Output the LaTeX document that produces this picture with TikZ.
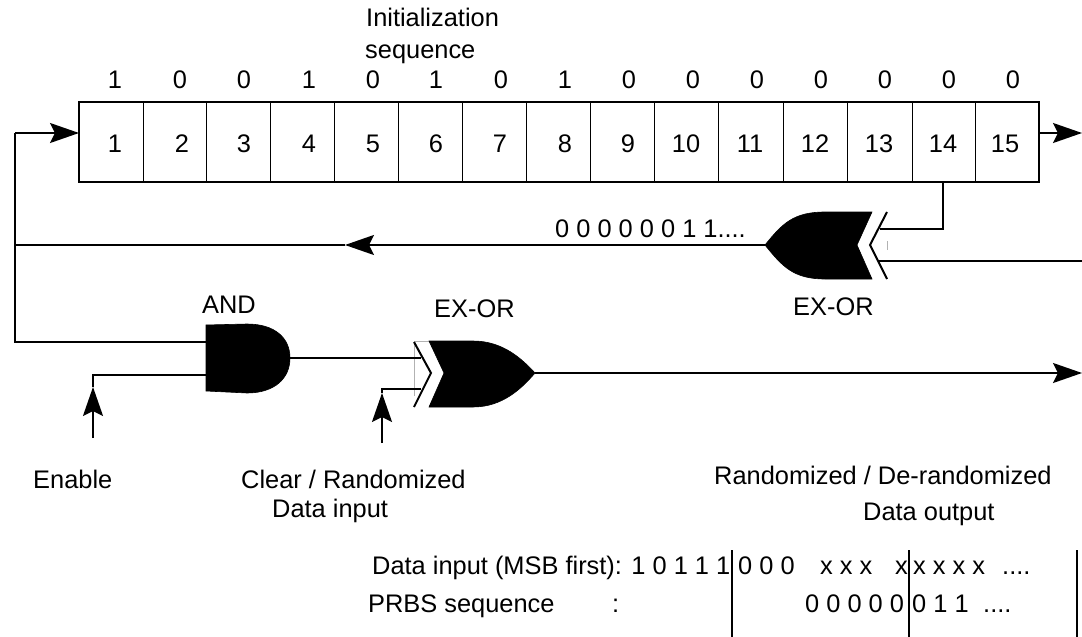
\documentclass[tikz,border=0pt]{standalone}
\usepackage{fontspec}
\setmainfont{Liberation Sans}
\usetikzlibrary{arrows.meta}
\tikzset{
  lbl/.style={inner sep=0pt,anchor=base west,font=\fontsize{25.4}{28}\selectfont},
  num/.style={inner sep=0pt,anchor=base,font=\fontsize{25.4}{28}\selectfont},
  wire/.style={line width=2pt,line join=miter},
  thin wire/.style={line width=1pt},
  table rule/.style={line width=1.5pt},
  head/.style={-{Stealth[length=29pt,width=20pt,inset=5pt]}},
  gate/.style={fill=black,draw=black,line width=.6pt},
  ghost/.style={line width=.6pt,draw=black!30},
}
\begin{document}
\begin{tikzpicture}[x=1pt,y=-1pt]
\useasboundingbox (0,0) rectangle (1082,637);
% Register
\node[lbl] (init1) at (366,27) {Initialization};
\node[lbl] (init2) at (365,58) {sequence};
\coordinate (regTL) at (79,102);
\coordinate (regBR) at (1039,182);
\draw[wire] (regTL) rectangle (regBR);
\foreach \x in {143,206.5,270.5,334.5,398,462,526,590,654,718,783,847,912,975}
  \draw[thin wire] (\x,102) -- (\x,182);
\foreach \x/\d [count=\i] in {115/1,180/0,244/0,309/1,373/0,436/1,501/0,565/1,629/0,693/0,757/0,821/0,885/0,949/0,1013/0}
  \node[num] (seed\i) at (\x,88) {\d};
\foreach \x/\d [count=\i] in {115/1,182/2,244/3,309/4,373/5,436/6,500/7,565/8,628/9,686/10,750/11,815/12,879/13,943/14,1005/15}
  \node[num] (cell\i) at (\x,152) {\d};
% Gate 1: upper EX-OR
\coordinate (xa out) at (765,245);
\coordinate (xa in1) at (880,229);
\coordinate (xa in2) at (878,261);
\fill[gate] (xa out) .. controls (782,224) and (793,212) .. (825,212) -- (872,212)
  -- (857,245) -- (872,279) -- (825,279) .. controls (793,279) and (782,266) .. (xa out) -- cycle;
\draw[wire] (887,212) -- (870,245) -- (887,279);
\draw[ghost] (887,241) -- (887,250);
\coordinate (tap) at (943,182);
\coordinate (tapc) at (943,229);
\draw[wire] (tap) -- (tapc) -- (xa in1);
\coordinate (xa src) at (1082,261);
\draw[wire] (xa src) -- (xa in2);
\node[lbl] (xa lab) at (793,315) {EX-OR};
\node[lbl] (stream) at (555,237) {0 0 0 0 0 0 1 1....};
% Feedback
\coordinate (fb mid) at (345,245);
\coordinate (fb l) at (15,245);
\draw[wire,head] (xa out) -- (fb mid);
\draw[wire] (fb mid) -- (fb l);
% AND gate
\coordinate (and a) at (206,342);
\coordinate (and b) at (206,375);
\coordinate (and out) at (290,358);
\fill[gate] (206,325) -- (247,324) .. controls (275,324) and (290,338) .. (and out)
  .. controls (290,378) and (275,393) .. (247,393) -- (206,391) -- cycle;
\node[lbl] (and lab) at (202,313) {AND};
\coordinate (corner) at (15,342);
\coordinate (corner top) at (15,133);
\coordinate (reg in) at (79,133);
\draw[wire] (and a) -- (corner) -- (corner top);
\draw[wire,head] (corner top) -- (reg in);
\coordinate (en c) at (93,375);
\coordinate (en tip) at (93,387);
\coordinate (en end) at (93,438);
\draw[wire] (and b) -- (en c) -- (en tip);
\draw[wire,head] (en end) -- (en tip);
\node[lbl] (en) at (33,488) {Enable};
% Gate 2: lower EX-OR
\coordinate (xb in1) at (421,358);
\coordinate (xb in2) at (421,389);
\coordinate (xb out) at (535,373);
\draw[ghost] (414,341) -- (429,341);
\draw[ghost] (414,341) -- (414,396);
\fill[gate] (429,341) -- (473,341) .. controls (503,341) and (522,359) .. (xb out)
  .. controls (522,388) and (503,407) .. (473,407) -- (429,407) -- (444,373) -- cycle;
\draw[wire] (414,342) -- (431,373) -- (414,407);
\draw[wire] (and out) -- (xb in1);
\coordinate (dc) at (382,389);
\coordinate (dtip) at (382,393);
\coordinate (dend) at (382,443);
\draw[wire] (xb in2) -- (dc) -- (dtip);
\draw[wire,head] (dend) -- (dtip);
\node[lbl] (xb lab) at (434,317) {EX-OR};
\coordinate (out end) at (1082,373);
\draw[wire,head] (xb out) -- (out end);
\coordinate (reg out) at (1039,133);
\coordinate (reg out end) at (1082,133);
\draw[wire,head] (reg out) -- (reg out end);
% Labels
\node[lbl] (c1) at (241,488) {Clear / Randomized};
\node[lbl] (c2) at (272,517) {Data input};
\node[lbl] (r1) at (714,484) {Randomized / De-randomized};
\node[lbl] (r2) at (863,520) {Data output};
% Table
\coordinate (v1a) at (732,550); \coordinate (v1b) at (732,637);
\coordinate (v2a) at (909,550); \coordinate (v2b) at (909,637);
\coordinate (v3a) at (1077,550); \coordinate (v3b) at (1077,637);
\draw[table rule] (v1a) -- (v1b);
\draw[table rule] (v2a) -- (v2b);
\draw[table rule] (v3a) -- (v3b);
\node[lbl] (t1) at (372,574) {Data input (MSB first): 1 0 1 1 1};
\node[lbl] (t2) at (738,574) {0 0 0};
\node[lbl] (t3) at (820,574) {x x x};
\node[lbl] (t4) at (895,574) {x};
\node[lbl] (t5) at (913,574) {x x x x};
\node[lbl] (t6) at (1002,574) {....};
\node[lbl] (p1) at (368,612) {PRBS sequence};
\node[lbl] (p2) at (612,612) {:};
\node[lbl] (p3) at (805,612) {0 0 0 0 0};
\node[lbl] (p4) at (912,612) {0 1 1};
\node[lbl] (p5) at (983,612) {....};
\end{tikzpicture}
\end{document}
